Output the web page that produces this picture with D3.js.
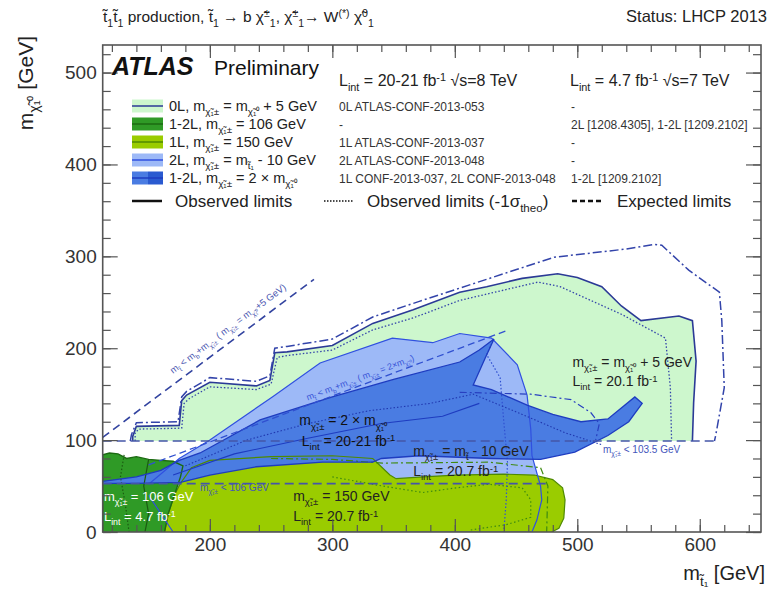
<!DOCTYPE html>
<html lang="en">
<head>
<meta charset="UTF-8">
<title>Stop to b chargino summary</title>
<style>
  body { margin: 0; padding: 0; background: #fff; }
  svg { display: block; font-family: "Liberation Sans", Arial, Helvetica, sans-serif; }
</style>
</head>
<body>
<svg id="chart" width="771" height="593"></svg>
<script src="https://d3js.org/d3.v7.min.js"></script>
<script>
// ---- data (m_stop, m_LSP) in GeV ----
var xMajorTicks = [200, 300, 400, 500, 600];
var yMajorTicks = [0, 100, 200, 300, 400, 500];

// 0L, m_chargino = m_LSP + 5 GeV
var obs0L = [[137,99],[137,104],[140,115],[175,116],[177,143],[181,149],[200,163],[238,159],[249,165],[253,195],[263,196],[300,203],[333,227],[366,242],[404,261],[426,267],[455,276],[484,281],[500,277],[520,267],[536,246],[552,230],[583,235],[594,230],[597,186],[595,141],[594,99]];
var exp0L = [[135,99],[136,106],[140,119],[174,120],[177,147],[181,153],[200,168],[238,164],[249,170],[253,200],[263,202],[300,210],[333,234],[371,251],[426,275],[481,299],[540,308],[563,313],[569,312],[591,285],[616,261],[618,230],[620,157],[613,105],[612,99]];
var theo0L = [[139,99],[139,108],[142,112],[177,113],[179,140],[183,145],[200,158],[238,155],[250,161],[255,190],[263,192],[300,198],[333,220],[366,233],[404,252],[468,272],[486,267],[536,237],[572,211],[576,157],[577,99]];

// 2L, m_chargino = m_stop - 10 GeV
var obs2L = [[150,52],[175,80],[200,100],[251,147],[290,184],[349,211],[382,206],[404,216],[430,211],[451,182],[459,149],[462,112],[463,83],[470,50],[471,35],[467,13],[463,0],[170,0],[150,40]];
var theo2L = [[430,205],[426,193],[437,168],[440,120],[443,76],[442,35],[440,0]];

// 1L, m_chargino = 150 GeV
var obs1L = [[163,0],[166,20],[171,40],[176,53],[185,70],[200,78],[250,82],[300,83],[333,80],[347,62],[352,58],[374,60],[401,62],[440,63],[465,62],[480,57],[488,48],[490,35],[489,15],[485,4],[479,0]];
var exp1L = [[250,80],[300,79],[341,75],[428,76],[470,70],[476,50],[475,0]];
var theo1L = [[300,60],[341,50],[374,43],[401,48],[428,52],[455,48],[462,35],[462,16],[442,8],[412,2]];

// 1-2L, m_chargino = 106 GeV (7 TeV)
var obs106 = [[112.5,0],[112.5,84],[118,86],[125,85],[132,80],[140,82],[150,79],[160,78],[170,77],[178,72],[176,60],[171,40],[166,20],[163,0]];
var theo106 = [[130,84],[127,60],[131,30],[134,0]];
var exp106 = [[150,79],[146,50],[150,20],[147,0]];

// 1-2L, m_chargino = 2 x m_LSP
var obs2x = [[112.5,55],[140,60],[160,67],[175,78],[192,86],[241,122],[300,147],[350,166],[404,185],[420,198],[432,210],[425,190],[415,160],[430,155],[459,138],[480,128],[503,120],[525,123],[547,147],[553,140],[542,120],[525,105],[498,87],[470,79],[430,80],[371,83],[340,80],[333,76],[292,76],[238,71],[200,62],[176,54],[140,53],[112.5,53]];
var exp2x = [[404,152],[462,150],[495,144],[511,130],[518,118],[515,100]];
var theo2x = [[180,72],[230,100],[280,118],[330,132],[380,140],[415,150],[455,128],[490,108],[520,95]];
var inner2x = [[170,62],[220,85],[280,102],[340,118],[390,126],[420,140]];

// kinematic and LEP limits
var kin5 = [[112.5,103],[285,275]];
var kin2x = [[150,73],[442,219]];
var lim103 = [[112.5,99],[613,99]];
var lim106 = [[112.5,52.6],[478,52.6]];

// ---- layout ----
var svg = d3.select("#chart");
var x = d3.scaleLinear().domain([112.5, 650]).range([102.7, 761]);
var y = d3.scaleLinear().domain([0, 530]).range([532, 45]);
var line = d3.line().x(function (d) { return x(d[0]); }).y(function (d) { return y(d[1]); });

var defs = svg.append("defs");
defs.append("clipPath").attr("id", "clip")
    .append("rect").attr("x", x(112.5)).attr("y", y(530))
    .attr("width", x(650) - x(112.5)).attr("height", y(0) - y(530));

var plot = svg.append("g").attr("clip-path", "url(#clip)");

function area(pts, fill) {
    plot.append("path").attr("d", line(pts) + "Z").attr("fill", fill).attr("stroke", "none");
}
function curve(pts, color, width, dash) {
    plot.append("path").attr("d", line(pts)).attr("fill", "none")
        .attr("stroke", color).attr("stroke-width", width)
        .attr("stroke-dasharray", dash || null);
}

// rich text: _{..} subscript, ^{..} superscript
function rich(sel, str) {
    var fs = parseFloat(sel.attr("font-size"));
    var re = /([_^])\{([^}]*)\}/g, last = 0, m, shift = 0;
    function add(s, lvl) {
        var target = lvl * fs * 0.3;
        sel.append("tspan").attr("dy", target - shift)
            .attr("font-size", lvl ? fs * 0.68 : fs).text(s);
        shift = target;
    }
    while ((m = re.exec(str))) {
        if (m.index > last) add(str.slice(last, m.index), 0);
        add(m[2], m[1] === "_" ? 1 : -1);
        last = re.lastIndex;
    }
    if (last < str.length) add(str.slice(last), 0);
    return sel;
}
function label(px, py, str, size, color, opts) {
    opts = opts || {};
    var t = svg.append("text").attr("x", px).attr("y", py)
        .attr("font-size", size).attr("fill", color || "#222")
        .attr("text-anchor", opts.anchor || "start");
    if (opts.weight) t.attr("font-weight", opts.weight);
    if (opts.style) t.attr("font-style", opts.style);
    if (opts.rotate !== undefined) t.attr("transform", "rotate(" + opts.rotate + "," + px + "," + py + ")");
    return rich(t, str);
}

// ---- fills ----
area(obs0L, "#cdf7cd");
area(obs2L, "#9db9f7");
area(obs1L, "#9acc00");
area(obs106, "#2f9a26");
area(obs2x, "#4a7ce2");

// ---- limit lines ----
curve(obs0L, "#2b3a96", 1.6);
curve(exp0L, "#3344aa", 1.5, "9,3,2,3");
curve(theo0L, "#3344aa", 1.3, "1.5,2");

curve(obs1L, "#4f8a00", 1.2);
curve(exp1L, "#3f8a10", 1.2, "7,3,2,3");
curve(theo1L, "#3f8a10", 1.2, "1.5,2.5");

curve(obs106, "#1c6a12", 1.4);
curve(theo106, "#1c5a12", 1.2, "1.5,2");
curve(exp106, "#1c5a12", 1.2);

curve(obs2L, "#3050e0", 1.2);
curve(theo2L, "#3050d0", 1.2, "1.5,2");

curve(obs2x, "#1e3cc0", 1.3);
curve(exp2x, "#2840c0", 1.2, "7,3,2,3");
curve(theo2x, "#2038b0", 1.1, "1.5,2");
curve(inner2x, "#1e3cc0", 1.1);

curve(kin5, "#3344a0", 1.6, "8,5");
curve(kin2x, "#3050d0", 1.3, "7,4");
curve(lim103, "#4455a8", 1.6, "9,5");
curve(lim106, "#4455a8", 1.6, "9,5");

// ---- annotations inside the plot ----
label(x(170), y(172), "m_{t̃} < m_{b}+m_{χ̃₁±} ( m_{χ̃₁±} = m_{χ̃₁⁰}+5 GeV)", 9.5, "#4a56b0", { rotate: -36.9 });
label(x(280), y(143), "m_{t̃} < m_{b}+m_{χ̃₁±} ( m_{χ̃₁±} = 2×m_{χ̃₁⁰})", 9, "#3a55d8", { rotate: -20.6 });
label(x(496), y(180), "m_{χ̃₁±} =  m_{χ̃₁⁰} + 5 GeV", 14, "#222");
label(x(496), y(159), "L_{int} = 20.1 fb^{-1}", 14, "#222");
label(x(273), y(116), "m_{χ̃₁±} = 2 × m_{χ̃₁⁰}", 14, "#111");
label(x(275), y(94), "L_{int} = 20-21 fb^{-1}", 14, "#111");
label(x(366), y(83), "m_{χ̃₁±} = m_{t̃} - 10 GeV", 14, "#222");
label(x(366), y(61), "L_{int} = 20.7 fb^{-1}", 14, "#222");
label(x(268), y(34), "m_{χ̃₁±} = 150 GeV", 14, "#222");
label(x(268), y(12), "L_{int} = 20.7 fb^{-1}", 14, "#222");
label(x(113.5), y(34), "m_{χ̃₁±} = 106 GeV", 13, "#fff");
label(x(113.5), y(12), "L_{int} = 4.7 fb^{-1}", 13, "#fff");
label(x(521), y(86), "m_{χ̃₁±} < 103.5 GeV", 10, "#4455bb");
label(x(192), y(45), "m_{χ̃₁±} < 106 GeV", 10, "#4455bb");

// ---- axes ----
var frameColor = "#555";
function axisGroup(axis, tx, ty) {
    var g = svg.append("g").attr("transform", "translate(" + tx + "," + ty + ")").call(axis);
    g.select(".domain").remove();
    g.selectAll("line").attr("stroke", frameColor).attr("stroke-width", 1.2);
    g.selectAll("text").attr("font-size", 19).attr("fill", "#333")
        .attr("font-family", "Liberation Sans, Arial, sans-serif");
    return g;
}
var xMinor = d3.range(120, 650, 20), yMinor = d3.range(0, 530, 20);
axisGroup(d3.axisBottom(x).tickValues(xMinor).tickSize(-7).tickFormat(""), 0, y(0));
axisGroup(d3.axisBottom(x).tickValues(xMajorTicks).tickSize(-13).tickPadding(6).tickFormat(d3.format("d")), 0, y(0));
axisGroup(d3.axisTop(x).tickValues(xMinor).tickSize(-7).tickFormat(""), 0, y(530));
axisGroup(d3.axisTop(x).tickValues(xMajorTicks).tickSize(-13).tickFormat(""), 0, y(530));
axisGroup(d3.axisLeft(y).tickValues(yMinor).tickSize(-8).tickFormat(""), x(112.5), 0);
axisGroup(d3.axisLeft(y).tickValues(yMajorTicks).tickSize(-15).tickPadding(6).tickFormat(d3.format("d")), x(112.5), 0);
axisGroup(d3.axisRight(y).tickValues(yMinor).tickSize(-8).tickFormat(""), x(650), 0);
axisGroup(d3.axisRight(y).tickValues(yMajorTicks).tickSize(-15).tickFormat(""), x(650), 0);

svg.append("rect").attr("x", x(112.5)).attr("y", y(530))
    .attr("width", x(650) - x(112.5)).attr("height", y(0) - y(530))
    .attr("fill", "none").attr("stroke", frameColor).attr("stroke-width", 1.6);

label(765, 580, "m_{t̃₁} [GeV]", 20, "#222", { anchor: "end" });
label(33, 36, "m_{χ̃₁⁰} [GeV]", 21, "#222", { anchor: "end", rotate: -90 });

// ---- header ----
label(103, 22, "t̃_{1}t̃_{1} production, t̃_{1} → b χ̃^{±}_{1}, χ̃^{±}_{1}→ W^{(*)} χ̃^{0}_{1}", 15.5, "#222");
label(767, 22, "Status: LHCP 2013", 16.5, "#222", { anchor: "end" });

// ---- legend ----
label(112, 75, "ATLAS", 25, "#111", { weight: "bold", style: "italic" });
label(214, 75, "Preliminary", 21, "#111");
label(339, 86, "L_{int} = 20-21 fb^{-1} √s=8 TeV", 16, "#222");
label(570, 86, "L_{int} = 4.7 fb^{-1} √s=7 TeV", 16, "#222");

var legendRows = [
    { name: "0L, m_{χ̃₁±} = m_{χ̃₁⁰} + 5 GeV", ref8: "0L ATLAS-CONF-2013-053", ref7: "-", fill: "#cdf7cd", fill2: "#cdf7cd", stroke: "#2b3a96" },
    { name: "1-2L, m_{χ̃₁±} = 106 GeV", ref8: "-", ref7: "2L [1208.4305], 1-2L [1209.2102]", fill: "#2f9a26", fill2: "#2f9a26", stroke: "#1c6a12" },
    { name: "1L, m_{χ̃₁±} = 150 GeV", ref8: "1L ATLAS-CONF-2013-037", ref7: "-", fill: "#9acc00", fill2: "#9acc00", stroke: "#4f8a00" },
    { name: "2L, m_{χ̃₁±} = m_{t̃₁} - 10 GeV", ref8: "2L ATLAS-CONF-2013-048", ref7: "-", fill: "#9db9f7", fill2: "#9db9f7", stroke: "#3050e0" },
    { name: "1-2L, m_{χ̃₁±} = 2 × m_{χ̃₁⁰}", ref8: "1L CONF-2013-037, 2L CONF-2013-048", ref7: "1-2L [1209.2102]", fill: "#4a7ce2", fill2: "#2a5ad0", stroke: "#1e3cc0" }
];
var rowY = [106, 124, 142, 160, 178];
legendRows.forEach(function (r, i) {
    var cy = rowY[i];
    svg.append("rect").attr("x", 132).attr("y", cy - 6.5).attr("width", 16).attr("height", 13).attr("fill", r.fill);
    svg.append("rect").attr("x", 148).attr("y", cy - 6.5).attr("width", 15).attr("height", 13).attr("fill", r.fill2);
    svg.append("line").attr("x1", 132).attr("x2", 163).attr("y1", cy).attr("y2", cy)
        .attr("stroke", r.stroke).attr("stroke-width", 1.5);
    label(169, cy + 5, r.name, 14.5, "#222");
    label(339, cy + 4.5, r.ref8, 12, "#333");
    label(571, cy + 4.5, r.ref7, 12, "#333");
});

var styleRow = 201;
svg.append("line").attr("x1", 132).attr("x2", 162).attr("y1", styleRow).attr("y2", styleRow)
    .attr("stroke", "#111").attr("stroke-width", 2.5);
label(175, styleRow + 6, "Observed limits", 17, "#222");
svg.append("line").attr("x1", 324).attr("x2", 354).attr("y1", styleRow).attr("y2", styleRow)
    .attr("stroke", "#111").attr("stroke-width", 1.5).attr("stroke-dasharray", "1.5,1.5");
label(367, styleRow + 6, "Observed limits (-1σ_{theo})", 17, "#222");
svg.append("line").attr("x1", 572).attr("x2", 601).attr("y1", styleRow).attr("y2", styleRow)
    .attr("stroke", "#111").attr("stroke-width", 2.5).attr("stroke-dasharray", "5,3");
label(617, styleRow + 6, "Expected limits", 17, "#222");
</script>
</body>
</html>
